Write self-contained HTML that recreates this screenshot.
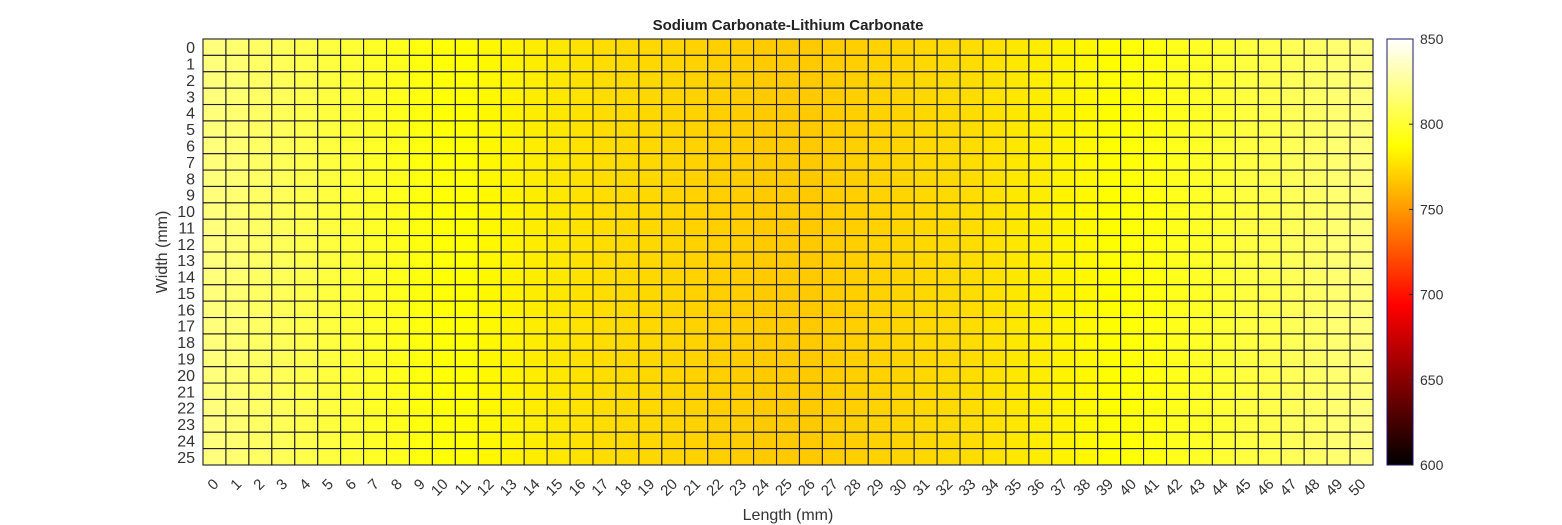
<!DOCTYPE html>
<html><head><meta charset="utf-8"><style>
body{margin:0;background:#fff;}
svg{display:block;font-family:"Liberation Sans",sans-serif;}
</style></head><body>
<svg id="chart" width="1562" height="525">
<defs>
<linearGradient id="hotgrad" x1="0" y1="1" x2="0" y2="0">
<stop offset="0" stop-color="#000"/>
<stop offset="0.375" stop-color="#f00"/>
<stop offset="0.75" stop-color="#ff0"/>
<stop offset="1" stop-color="#fff"/>
</linearGradient>
</defs>
<text x="788" y="30" text-anchor="middle" font-size="15" font-weight="bold" fill="#222">Sodium Carbonate-Lithium Carbonate</text>
<g id="cells"></g>
<g id="xticks"></g>
<g id="yticks"></g>
<text x="788" y="520" text-anchor="middle" font-size="16" fill="#333">Length (mm)</text>
<text transform="translate(167,252) rotate(-90)" text-anchor="middle" font-size="16" fill="#333">Width (mm)</text>
<rect x="1387" y="39" width="26" height="426" fill="url(#hotgrad)" stroke="#1a1a6a" stroke-width="1"/>
<g id="cbticks"></g>
</svg>
<script>
const xCats = Array.from({length:51},(_,i)=>String(i));
const yCats = Array.from({length:26},(_,i)=>String(i));
const colValues = [818,815,812,809,806,803,800,797,794,791,789,787,785,783,781,779,777,775,774,773,772,771,770,769,768,768,768,769,770,771,772,773,774,775,777,779,781,783,785,787,789,791,794,797,800,803,806,809,812,815,818];
const cbTicks = [600,650,700,750,800,850];
const vmin=600,vmax=850;
const X0=203,X1=1373,Y0=39,Y1=465;
const cw=(X1-X0)/xCats.length, ch=(Y1-Y0)/yCats.length;
const xPos=i=>X0+i*cw, yPos=j=>Y0+j*ch;
const cbY=v=>Y1-(v-vmin)/(vmax-vmin)*(Y1-Y0);
function hot(v){let f=Math.max(0,Math.min(1,(v-vmin)/(vmax-vmin)));
 let r=Math.min(1,f/0.375),g=Math.max(0,Math.min(1,(f-0.375)/0.375)),b=Math.max(0,Math.min(1,(f-0.75)/0.25));
 return `rgb(${Math.round(r*255)},${Math.round(g*255)},${Math.round(b*255)})`;}
const NS='http://www.w3.org/2000/svg';
const cells=document.getElementById('cells');
yCats.forEach((y,j)=>{xCats.forEach((x,i)=>{
 const r=document.createElementNS(NS,'rect');
 r.setAttribute('x',xPos(i));r.setAttribute('y',yPos(j));
 r.setAttribute('width',cw);r.setAttribute('height',ch);
 r.setAttribute('fill',hot(colValues[i]));r.setAttribute('stroke','#1e1e30');r.setAttribute('stroke-width','1.1');
 
 
 cells.appendChild(r);});});
const xt=document.getElementById('xticks');
xCats.forEach((x,i)=>{const t=document.createElementNS(NS,'text');
 const cx=xPos(i)+cw/2+5, cy=485;
 t.setAttribute('transform',`translate(${cx},${cy}) rotate(-45)`);
 t.setAttribute('text-anchor','end');t.setAttribute('font-size','15');t.setAttribute('fill','#333');
 t.textContent=x;
 
 
 xt.appendChild(t);});
const yt=document.getElementById('yticks');
yCats.forEach((y,j)=>{const t=document.createElementNS(NS,'text');
 t.setAttribute('x',195);t.setAttribute('y',yPos(j)+ch/2+6);
 t.setAttribute('text-anchor','end');t.setAttribute('font-size','16');t.setAttribute('fill','#333');
 t.textContent=y;
 
 
 yt.appendChild(t);});
const cb=document.getElementById('cbticks');
cbTicks.forEach(v=>{const t=document.createElementNS(NS,'text');
 t.setAttribute('x',1420);t.setAttribute('y',cbY(v)+5);
 t.setAttribute('font-size','14');t.setAttribute('fill','#333');
 t.textContent=v;
 
 
 cb.appendChild(t);
 const l=document.createElementNS(NS,'line');
 l.setAttribute('x1',1409);l.setAttribute('x2',1413);l.setAttribute('y1',cbY(v));l.setAttribute('y2',cbY(v));
 l.setAttribute('stroke','#262626');
 
 
 cb.appendChild(l);});
</script>
</body></html>
